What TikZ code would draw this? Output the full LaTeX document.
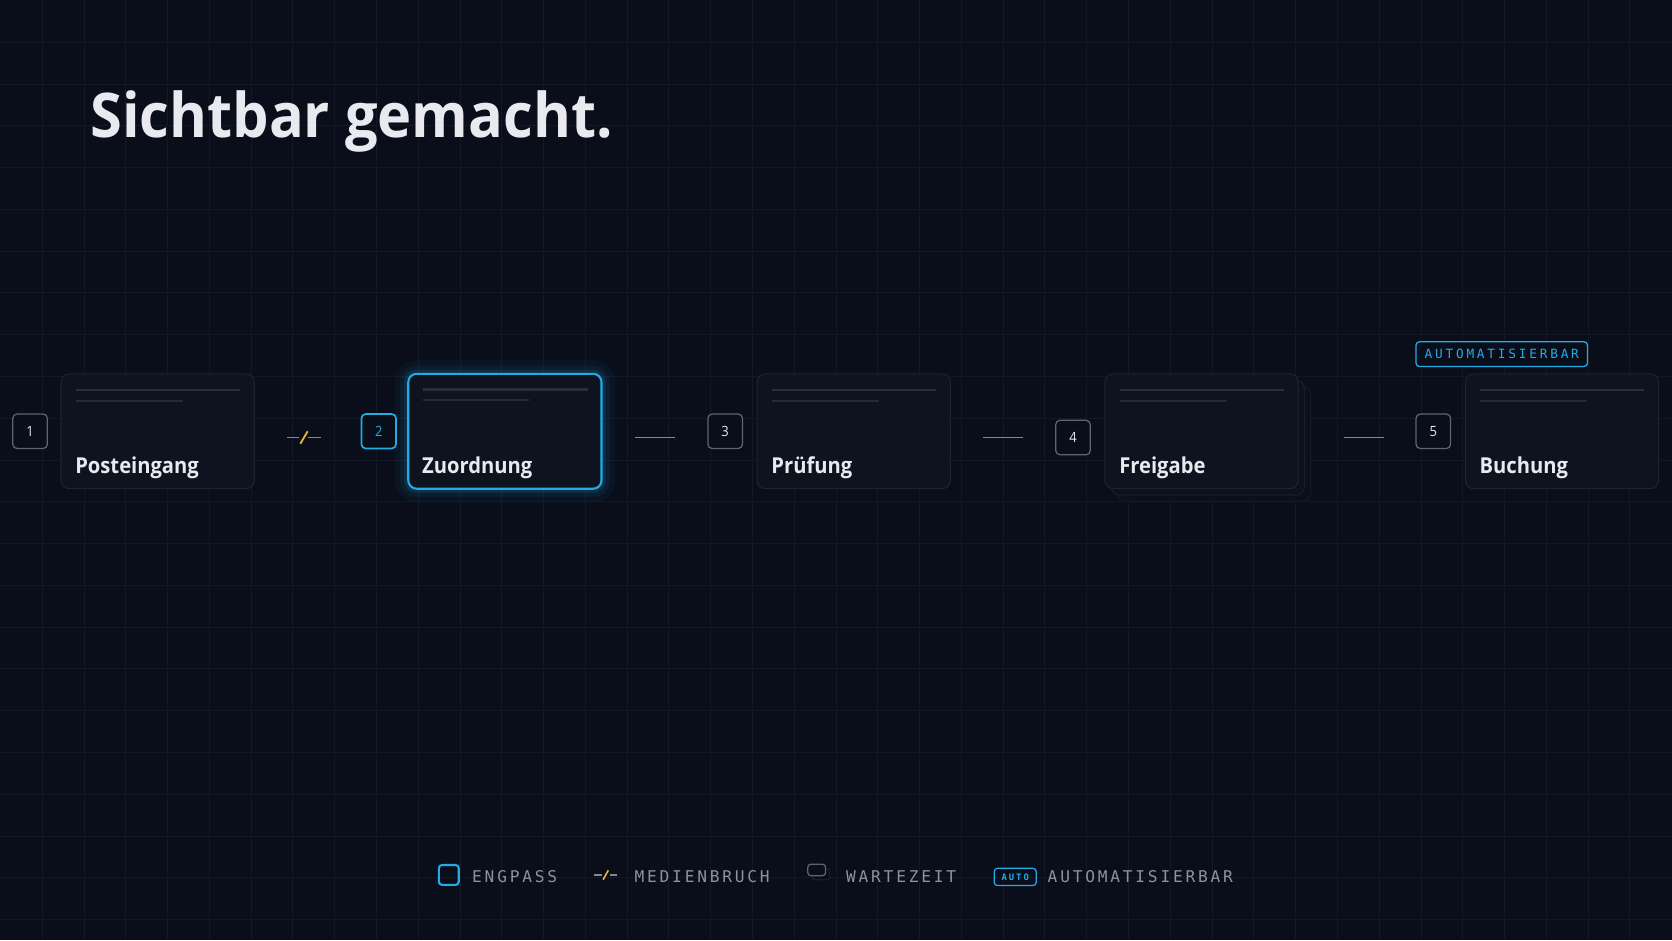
\documentclass[tikz,border=0pt]{standalone}
\usepackage{fontspec}
\setmainfont{Open Sans}
\newfontfamily\uifont[FakeStretch=0.92]{Open Sans}
\newfontfamily\titlefont[FakeStretch=0.937]{Open Sans}
\newfontfamily\monofont[LetterSpace=17.2]{DejaVu Sans Mono}
\newfontfamily\tagfont[LetterSpace=22]{DejaVu Sans Mono}
\usetikzlibrary{positioning, calc}

\definecolor{bgcol}{RGB}{10,14,26}
\definecolor{gridcol}{RGB}{18,24,37}
\definecolor{cardfill}{RGB}{14,19,32}
\definecolor{carddraw}{RGB}{29,35,49}
\definecolor{skel}{RGB}{40,47,62}
\definecolor{skelb}{RGB}{36,42,57}
\definecolor{labelcol}{RGB}{232,234,240}
\definecolor{numdraw}{RGB}{94,100,114}
\definecolor{engpass}{RGB}{34,172,230}
\definecolor{linkcol}{RGB}{130,135,150}
\definecolor{medien}{RGB}{226,176,58}
\definecolor{legendcol}{RGB}{140,146,160}
\definecolor{stackafill}{RGB}{13,17,29}
\definecolor{stackadraw}{RGB}{25,30,43}
\definecolor{stackbfill}{RGB}{11,15,27}
\definecolor{stackbdraw}{RGB}{20,25,37}

\tikzset{
  gridline/.style={draw=gridcol, line width=0.8pt},
  headline/.style={anchor=base west, inner sep=0pt, text=labelcol,
    font=\titlefont\bfseries\fontsize{59}{66}\selectfont},
  card/.style={rectangle, rounded corners=8pt, fill=cardfill, draw=carddraw,
    line width=1pt, minimum width=185pt, minimum height=110pt, inner sep=0pt},
  engpass card/.style={draw=engpass, line width=2pt,
    preaction={draw=engpass, draw opacity=0.04, line width=26pt},
    preaction={draw=engpass, draw opacity=0.07, line width=16pt},
    preaction={draw=engpass, draw opacity=0.12, line width=8pt}},
  stacked/.style={
    preaction={fill=stackbfill, draw=stackbdraw, line width=1pt,
      transform canvas={shift={(12pt,-12pt)}}},
    preaction={fill=stackafill, draw=stackadraw, line width=1pt,
      transform canvas={shift={(6pt,-6pt)}}}},
  skeleton/.style={draw=skel, line width=2pt},
  steplabel/.style={anchor=base west, inner sep=0pt, text=labelcol,
    font=\uifont\bfseries\fontsize{21}{24}\selectfont},
  numbox/.style={rectangle, rounded corners=4pt, draw=numdraw, line width=1.2pt,
    fill=bgcol, minimum size=33pt, inner sep=0pt, text=labelcol,
    font=\uifont\fontsize{13.5}{16}\selectfont},
  engpass num/.style={draw=engpass, line width=1.6pt, text=engpass},
  link/.style={draw=linkcol, line width=1.8pt},
  bruchline/.style={draw=medien, line width=1.8pt},
  autotag/.style={rectangle, rounded corners=3pt, draw=engpass, line width=1.2pt,
    fill=bgcol, minimum width=164pt, minimum height=23.5pt, inner sep=0pt,
    text=engpass, font=\tagfont\fontsize{12.2}{14}\selectfont},
  legendtext/.style={anchor=base west, inner sep=0pt, text=legendcol,
    font=\monofont\fontsize{15.5}{18}\selectfont},
  legendbox/.style={rectangle, rounded corners=3pt, draw=engpass, line width=2pt,
    minimum size=19pt, inner sep=0pt},
  legendwait/.style={rectangle, rounded corners=3pt, draw=numdraw, line width=1.2pt,
    fill=bgcol, minimum width=17pt, minimum height=11pt, inner sep=0pt,
    preaction={fill=bgcol, draw=stackadraw, line width=1.2pt,
      transform canvas={shift={(4pt,-4pt)}}}},
  autobadge/.style={rectangle, rounded corners=3pt, draw=engpass, line width=1.2pt,
    minimum width=40pt, minimum height=16.5pt, inner sep=0pt, text=engpass,
    font=\tagfont\bfseries\fontsize{8.5}{10}\selectfont}
}

\begin{document}
\begin{tikzpicture}[x=1pt, y=-1pt]
   % Hintergrund mit Raster
   \fill[bgcol] (0,0) rectangle (1600,900);
   \foreach \gx in {40,80,...,1560} \draw[gridline] (\gx,0) -- (\gx,900);
   \foreach \gy in {40,80,...,880} \draw[gridline] (0,\gy) -- (1600,\gy);
   \useasboundingbox (0,0) rectangle (1600,900);

   % Titel
   \node[headline] (title) at (86,131) {Sichtbar gemacht.};

   % Prozessschritte
   \node[card, anchor=north west] (card1) at (57.5,357) {};
   \node[card, engpass card] (card2) [right=146pt of card1] {};
   \node[card] (card3) [right=147.5pt of card2] {};
   \node[card, stacked] (card4) [right=147pt of card3] {};
   \node[card] (card5) [right=159pt of card4] {};

   \foreach \c/\txt in {card1/Posteingang, card2/Zuordnung, card3/Prüfung,
                        card4/Freigabe, card5/Buchung} {
     \draw[skeleton] ([xshift=15pt,yshift=-16pt]\c.north west)
       -- ([xshift=-14pt,yshift=-16pt]\c.north east);
     \draw[skeleton, draw=skelb] ([xshift=15pt,yshift=-26.5pt]\c.north west) -- ++(102,0);
     \node[steplabel] (\c-label) at ([xshift=14pt,yshift=-96pt]\c.north west) {\txt};
   }

   % Nummern
   \node[numbox] (n1) [left=12pt of card1] {1};
   \node[numbox, engpass num] (n2) [left=10pt of card2] {2};
   \node[numbox] (n3) [left=13pt of card3] {3};
   \node[numbox] (n4) [left=13pt of card4, yshift=-6pt] {4};
   \node[numbox] (n5) [left=13pt of card5] {5};

   \node[autotag, anchor=south west] (tag) at ($(n5.west |- card5.north)+(0,-6)$) {AUTOMATISIERBAR};

   % Verbindungen
   \coordinate (axis) at (0,418.5);
   \coordinate (bruch) at ($(card1.east |- axis)!0.465!(n2.west |- axis)$);
   \draw[link] ([xshift=-16pt]bruch) -- ([xshift=-5pt]bruch)
               ([xshift=4pt]bruch) -- ([xshift=16pt]bruch);
   \draw[bruchline] ([xshift=-3.5pt,yshift=-6pt]bruch) -- ([xshift=3.5pt,yshift=6pt]bruch);
   \draw[link, shorten <=31pt, shorten >=30.5pt] (card2.east |- axis) -- (n3.west |- axis);
   \draw[link, shorten <=31pt, shorten >=31pt] (card3.east |- axis) -- (n4.west |- axis);
   \draw[link, shorten <=43pt, shorten >=30pt] (card4.east |- axis) -- (n5.west |- axis);

   % Legende
   \node[legendbox] (leg-eng) at (429.3,837.3) {};
   \node[legendtext] (leg-eng-text) at (451.5,844.6) {ENGPASS};
   \coordinate (leg-bruch) at (579.5,837.3);
   \draw[link, line width=1.6pt] ([xshift=-11pt]leg-bruch) -- ([xshift=-4pt]leg-bruch)
               ([xshift=4pt]leg-bruch) -- ([xshift=11pt]leg-bruch);
   \draw[bruchline, line width=1.6pt] ([xshift=-2.5pt,yshift=-4.5pt]leg-bruch)
     -- ([xshift=2.5pt,yshift=4.5pt]leg-bruch);
   \node[legendtext] (leg-bruch-text) at (607,844.6) {MEDIENBRUCH};
   \node[legendwait] (leg-wait) at (781.5,832.5) {};
   \node[legendtext] (leg-wait-text) at (809.5,844.6) {WARTEZEIT};
   \node[autobadge] (leg-auto) at (971.6,839.2) {AUTO};
   \node[legendtext] (leg-auto-text) at (1002.5,844.6) {AUTOMATISIERBAR};
\end{tikzpicture}
\end{document}
